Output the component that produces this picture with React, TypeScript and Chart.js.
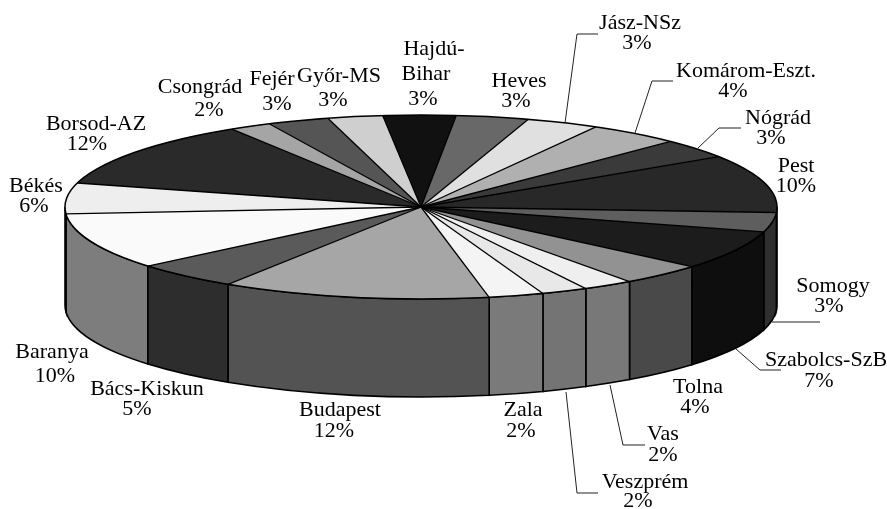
import React, { useEffect, useRef } from "react";
import { Chart, registerables } from "chart.js";

Chart.register(...registerables);

const categories = ["Baranya", "Békés", "Borsod-AZ", "Csongrád", "Fejér", "Győr-MS", "Hajdú-\nBihar", "Heves", "Jász-NSz", "Komárom-Eszt.", "Nógrád", "Pest", "Somogy", "Szabolcs-SzB", "Tolna", "Vas", "Veszprém", "Zala", "Budapest", "Bács-Kiskun"];
const shareValues = [9.9, 5.4, 11.9, 1.9, 2.8, 2.5, 3.3, 3.3, 3.3, 4.2, 3.4, 10.2, 3.4, 6.9, 3.8, 2.3, 2.1, 2.5, 12.2, 4.8];
const shareLabels = ["10%", "6%", "12%", "2%", "3%", "3%", "3%", "3%", "3%", "4%", "3%", "10%", "3%", "7%", "4%", "2%", "2%", "2%", "12%", "5%"];
const topGreys = [250, 238, 42, 165, 85, 207, 17, 104, 224, 176, 58, 40, 94, 28, 146, 239, 232, 244, 166, 90];

// Text line placement: [centre x, baseline y] for each line of each label
const labelPlaces: number[][][] = [
  [[52, 358], [55, 382]],
  [[36, 192], [34, 212]],
  [[96, 130], [87, 150]],
  [[200, 93], [209, 116]],
  [[272, 85], [277, 110]],
  [[339, 82], [333, 106]],
  [[434, 55], [426, 80], [423, 105]],
  [[519, 87], [516, 107]],
  [[640, 29], [637, 49]],
  [[746, 77], [733, 97]],
  [[778, 124], [771, 144]],
  [[796, 172], [796, 192]],
  [[833, 292], [829, 312]],
  [[826, 366], [819, 387]],
  [[698, 393], [695, 413]],
  [[663, 440], [663, 461]],
  [[645, 488], [638, 507]],
  [[523, 416], [521, 437]],
  [[340, 416], [334, 437]],
  [[147, 395], [137, 415]],
];
const leaderLines: number[][][] = [
  [[565, 123], [577, 34], [598, 34]],
  [[635, 133], [652, 81], [673, 81]],
  [[698, 148], [719, 128], [741, 128]],
  [[772, 322], [820, 322]],
  [[736, 349], [760, 370], [781, 370]],
  [[610, 385], [623, 445], [645, 445]],
  [[566, 392], [577, 493], [598, 493]],
];

const RX = 356;
const RY = 92;
const DEPTH = 98;
const FONT = '22px "Liberation Serif"';
const grey = (g: number) => `rgb(${g},${g},${g})`;

const pie3d = {
  id: "pie3d",
  beforeDatasetDraw(chart: any) {
    const ctx = chart.ctx;
    const arcs = chart.getDatasetMeta(0).data;
    const { x: cx, y: cy, outerRadius: R } = arcs[0];
    // side wall
    ctx.save();
    ctx.lineWidth = 1.6;
    ctx.strokeStyle = "#000";
    arcs.forEach((arc: any, i: number) => {
      for (const k of [-1, 0, 1]) {
        const s = Math.max(arc.startAngle + k * 2 * Math.PI, 0);
        const e = Math.min(arc.endAngle + k * 2 * Math.PI, Math.PI);
        if (e <= s) continue;
        ctx.beginPath();
        ctx.ellipse(cx, cy, RX, RY, 0, s, e);
        ctx.ellipse(cx, cy + DEPTH, RX, RY, 0, e, s, true);
        ctx.closePath();
        ctx.fillStyle = grey(Math.round(topGreys[i] / 2));
        ctx.fill();
        ctx.stroke();
      }
    });
    ctx.restore();
    // squash the pie face into an ellipse
    ctx.save();
    ctx.translate(cx, cy);
    ctx.scale(RX / R, RY / R);
    ctx.translate(-cx, -cy);
  },
  afterDatasetDraw(chart: any) {
    const ctx = chart.ctx;
    ctx.restore();
    const arcs = chart.getDatasetMeta(0).data;
    const { x: cx, y: cy } = arcs[0];
    ctx.save();
    ctx.strokeStyle = "#000";
    ctx.lineWidth = 1.3;
    arcs.forEach((arc: any) => {
      ctx.beginPath();
      ctx.moveTo(cx, cy);
      ctx.lineTo(cx + RX * Math.cos(arc.startAngle), cy + RY * Math.sin(arc.startAngle));
      ctx.stroke();
    });
    ctx.lineWidth = 1.5;
    ctx.beginPath();
    ctx.ellipse(cx, cy, RX, RY, 0, 0, 2 * Math.PI);
    ctx.stroke();
    ctx.restore();
  },
  afterDraw(chart: any) {
    const ctx = chart.ctx;
    ctx.save();
    ctx.lineWidth = 1;
    ctx.strokeStyle = "#222";
    leaderLines.forEach((pts) => {
      ctx.beginPath();
      pts.forEach(([x, y], j) => (j ? ctx.lineTo(x, y) : ctx.moveTo(x, y)));
      ctx.stroke();
    });
    ctx.fillStyle = "#000";
    ctx.font = FONT;
    ctx.textAlign = "center";
    ctx.textBaseline = "alphabetic";
    categories.forEach((name, i) => {
      const lines = [...name.split("\n"), shareLabels[i]];
      lines.forEach((t, j) => ctx.fillText(t, labelPlaces[i][j][0], labelPlaces[i][j][1]));
    });
    ctx.restore();
  },
};

export default function App() {
  const ref = useRef<HTMLCanvasElement>(null);
  useEffect(() => {
    const chart = new Chart(ref.current!, {
      type: "pie",
      data: {
        labels: categories,
        datasets: [{
          data: shareValues,
          backgroundColor: topGreys.map(grey),
          borderWidth: 0,
          clip: false,
        } as any],
      },
      options: {
        responsive: false,
        animation: false,
        rotation: 230.1,
        radius: 200,
        layout: { padding: { left: 0, top: 0, right: 45, bottom: 95 } },
        plugins: { legend: { display: false }, tooltip: { enabled: false } },
      },
      plugins: [pie3d],
    });
    return () => chart.destroy();
  }, []);
  return (
    <canvas
      ref={ref}
      width={887}
      height={509}
      style={{ position: "absolute", left: 0, top: 0, width: 887, height: 509, background: "#fff" }}
    />
  );
}
